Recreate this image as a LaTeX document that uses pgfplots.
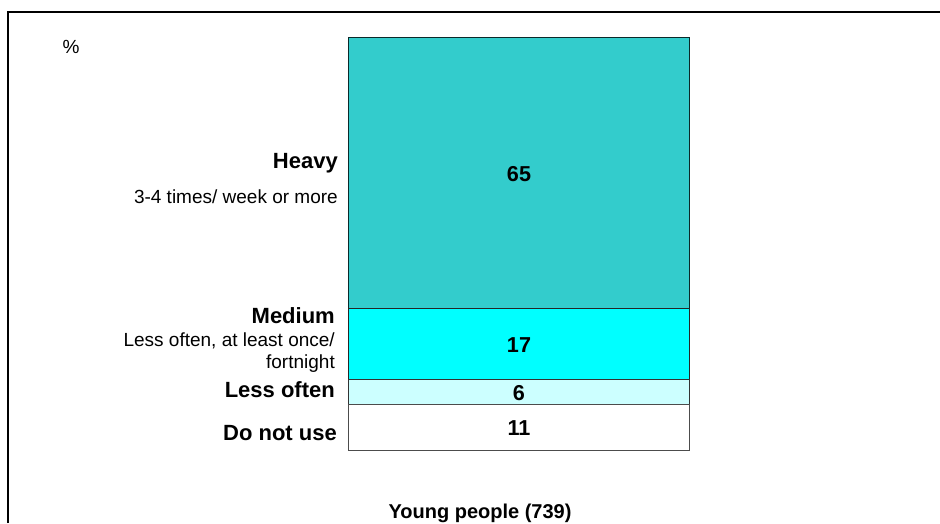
\documentclass[border=0pt]{standalone}
\usepackage{pgfplots}
\pgfplotsset{compat=1.18}
\usepackage{fontspec}
\setmainfont{Liberation Sans}
\definecolor{heavyc}{HTML}{33CCCC}
\definecolor{mediumc}{HTML}{00FFFF}
\definecolor{lessc}{HTML}{CCFFFF}
\begin{document}
\begin{tikzpicture}[x=1pt,y=1pt]
\path[use as bounding box] (0,0) rectangle (940,523);
\begin{axis}[
  at={(0,0)}, anchor=south west,
  scale only axis, width=940pt, height=523pt,
  xmin=0, xmax=940, ymin=-17.5, ymax=107.87,
  hide axis, clip=false,
  ybar stacked, bar width=341pt,
]
\addplot[fill=white, draw=black!70, line width=0.8pt] coordinates {(518.5,11)};
\addplot[fill=lessc, draw=black!80, line width=0.8pt] coordinates {(518.5,6)};
\addplot[fill=mediumc, draw=black!85, line width=0.8pt] coordinates {(518.5,17)};
\addplot[fill=heavyc, draw=black!80!heavyc, line width=0.8pt] coordinates {(518.5,65)};
\end{axis}
% frame
\draw[line width=2pt] (8,0) -- (8,511) -- (941,511);
% labels
\begin{scope}[every node/.style={inner sep=0pt}]
\node[anchor=base, font=\fontsize{19}{22}\selectfont] at (71,469) {\%};
\node[anchor=base east, font=\bfseries\fontsize{22}{26}\selectfont] at (338,354) {Heavy};
\node[anchor=base east, font=\fontsize{19}{22}\selectfont] at (338,319) {3-4 times/ week or more};
\node[anchor=base east, font=\bfseries\fontsize{22}{26}\selectfont] at (335,200) {Medium};
\node[anchor=base east, font=\fontsize{19}{22}\selectfont] at (335,177) {Less often, at least once/};
\node[anchor=base east, font=\fontsize{19}{22}\selectfont] at (335,155) {fortnight};
\node[anchor=base east, font=\bfseries\fontsize{22}{26}\selectfont] at (335,126) {Less often};
\node[anchor=base east, font=\bfseries\fontsize{22}{26}\selectfont] at (337,83) {Do not use};
% values
\node[anchor=base, font=\bfseries\fontsize{21.6}{25}\selectfont] at (519,341) {65};
\node[anchor=base, font=\bfseries\fontsize{21.6}{25}\selectfont] at (519,171) {17};
\node[anchor=base, font=\bfseries\fontsize{21.6}{25}\selectfont] at (519,123) {6};
\node[anchor=base, font=\bfseries\fontsize{21.6}{25}\selectfont] at (519,88) {11};
\node[anchor=base, font=\bfseries\fontsize{20}{24}\selectfont] at (480,5) {Young people (739)};
\end{scope}
\end{tikzpicture}
\end{document}
